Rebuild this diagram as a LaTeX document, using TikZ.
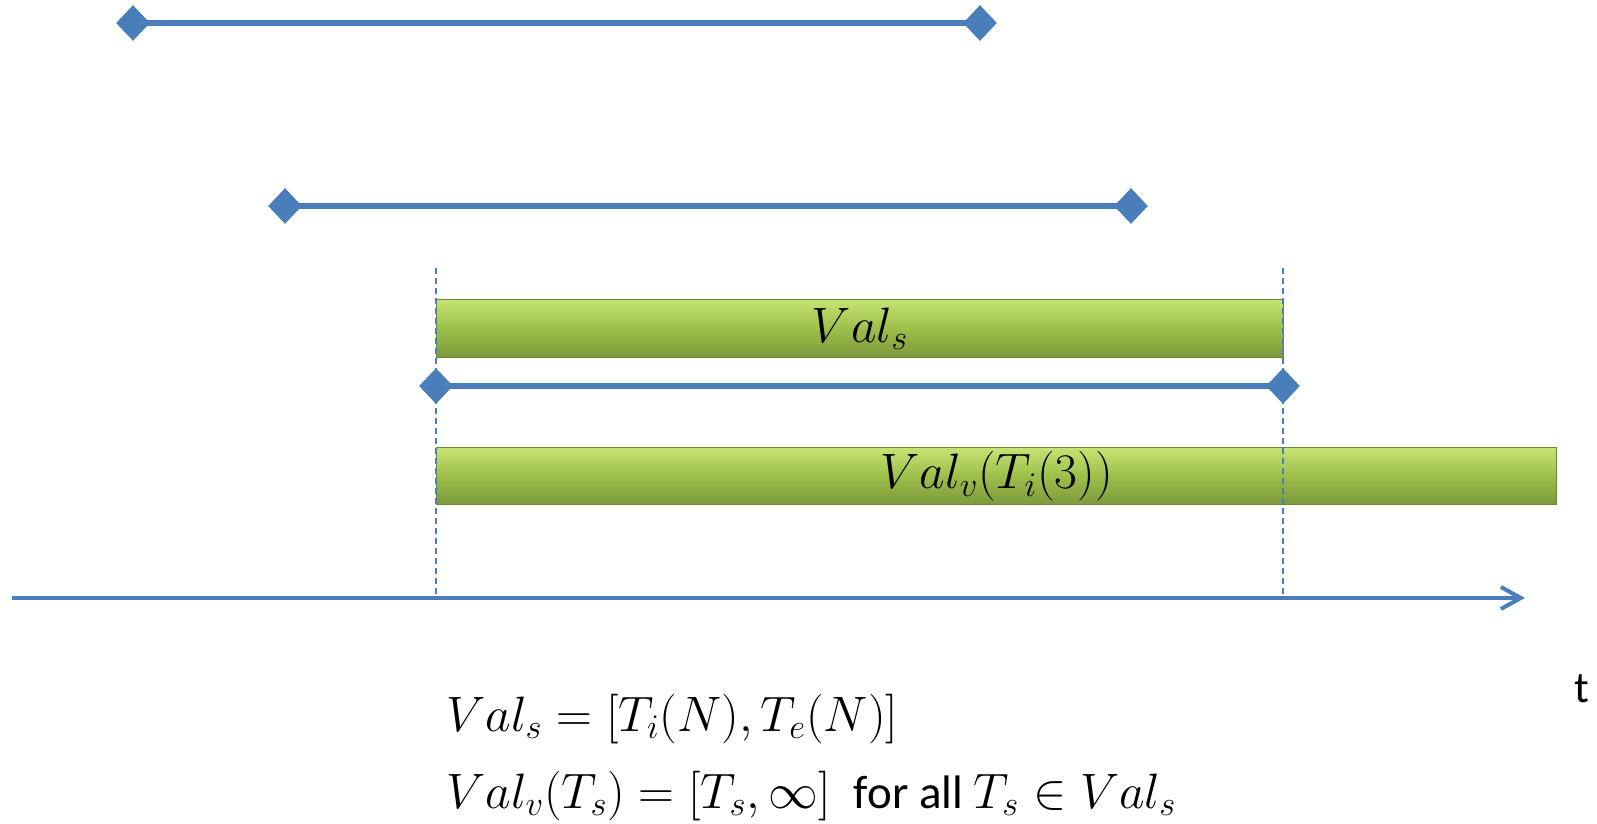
\documentclass[tikz,border=0pt]{standalone}
\usepackage[no-math]{fontspec}
\setmainfont{Carlito}
\usepackage{amsmath}
\usetikzlibrary{arrows.meta,shapes.geometric}
\definecolor{lineBlue}{HTML}{4A7EBB}
\definecolor{barLight}{HTML}{C6E473}
\definecolor{barMid}{HTML}{9CBF4A}
\definecolor{barDark}{HTML}{6A8638}

\begin{document}
\begin{tikzpicture}[x=0.5pt,y=-0.5pt,
  tipmark/.style={diamond,fill=lineBlue,inner sep=0pt,minimum width=17pt,minimum height=18pt},
  span/.style={draw=lineBlue,line width=3pt},
  bar/.style={draw=barDark,line width=0.6pt,top color=barLight,bottom color=barMid!80!black,middle color=barMid,anchor=north west,inner sep=0pt,font=\fontsize{24}{28}\selectfont},
  guide/.style={draw=lineBlue,line width=0.75pt,dash pattern=on 3pt off 2pt},
  axis/.style={draw=lineBlue,line width=2pt,-{Straight Barb[length=10pt,width=11pt]}},
  formula/.style={anchor=base west,inner sep=0pt,font=\fontsize{23.5}{28}\selectfont}
]
\useasboundingbox (0,0) rectangle (1597,824);
\node[tipmark] (a1) at (133,23) {};
\node[tipmark] (b1) at (980,23) {};
\node[tipmark] (a2) at (285,206) {};
\node[tipmark] (b2) at (1131,206) {};
\node[tipmark] (a3) at (436,386) {};
\node[tipmark] (b3) at (1283,386) {};
\draw[span] (a1.center)--(b1.center); \draw[span] (a2.center)--(b2.center); \draw[span] (a3.center)--(b3.center);
\node[bar,minimum width=423.5pt,minimum height=29pt] (vals) at (436,299) {$Val_s$};
\node[bar,minimum width=560pt,minimum height=28.5pt] (valv) at (436,447) {$Val_v(T_i(3))$};
\coordinate (ax0) at (12,598);
\coordinate (ax1) at (1525,598);
\coordinate (gl) at (436,268);
\coordinate (gr) at (1283,268);
\draw[guide] (gl)--(gl|-ax0); \draw[guide] (gr)--(gr|-ax0);
\draw[axis] (ax0)--(ax1);
\node[anchor=base,inner sep=0pt,font=\fontsize{22}{26}\selectfont] (tlabel) at (1582,702) {t};
\node[formula] (f1) at (446,731) {$Val_s = [T_i(N), T_e(N)]$};
\node[formula] (f2) at (446,808) {$Val_v(T_s) = [T_s, \infty]$\enspace for all $T_s \in Val_s$};
\end{tikzpicture}
\end{document}
